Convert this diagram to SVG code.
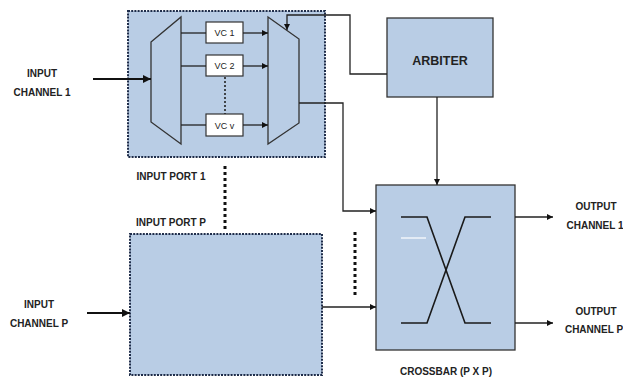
<svg xmlns="http://www.w3.org/2000/svg" width="623" height="379" viewBox="0 0 623 379">
<defs>
<marker id="ah" viewBox="0 0 10 10" refX="10" refY="5" markerWidth="6" markerHeight="6" markerUnits="userSpaceOnUse" orient="auto">
<path d="M0,0 L10,5 L0,10 Z" fill="#111"/>
</marker>
<marker id="ahb" viewBox="0 0 10 10" refX="10" refY="5" markerWidth="8" markerHeight="8" markerUnits="userSpaceOnUse" orient="auto">
<path d="M0,0 L10,5 L0,10 Z" fill="#111"/>
</marker>
<style>
.port{fill:#b9cde5;stroke:#1f2d4a;stroke-width:2;stroke-dasharray:2 1.2}
.blk{fill:#b9cde5;stroke:#333;stroke-width:1.3}
.vc{fill:#fff;stroke:#333;stroke-width:1.2}
.ln{fill:none;stroke:#222;stroke-width:1.3}
.thick{fill:none;stroke:#111;stroke-width:2.2}
.dots{fill:none;stroke:#111;stroke-width:3;stroke-dasharray:3 3}
.dotsm{fill:none;stroke:#222;stroke-width:1.6;stroke-dasharray:2 2}
.lbl{font-family:"Liberation Sans",Arial,sans-serif;font-weight:bold;font-size:10px;fill:#222;text-anchor:middle}
.vct{font-family:"Liberation Sans",Arial,sans-serif;font-size:9px;fill:#222;text-anchor:middle}
</style>
</defs>
<rect width="623" height="379" fill="#fff"/>

<g id="input-port-1">
<rect class="port" x="128" y="11" width="197" height="146"/>
<polygon class="blk" points="151,42 181,17 181,144 151,122"/>
<polygon class="blk" points="268,17 299,39 299,123 268,144"/>
<text class="lbl" x="171" y="180">INPUT PORT 1</text>
</g>
<g id="vc1"><rect class="vc" x="206" y="22" width="37" height="21"/><text class="vct" x="224.5" y="36">VC 1</text></g>
<g id="vc2"><rect class="vc" x="206" y="55" width="37" height="21"/><text class="vct" x="224.5" y="69">VC 2</text></g>
<g id="vcv"><rect class="vc" x="206" y="114" width="37" height="22"/><text class="vct" x="224.5" y="128.5">VC v</text></g>

<g id="input-port-p">
<rect class="port" x="130" y="234" width="192" height="141"/>
<text class="lbl" x="171" y="226">INPUT PORT P</text>
</g>

<g id="arbiter">
<rect class="blk" x="387" y="18" width="106" height="79"/>
<text class="lbl" x="440" y="65" style="font-size:12.5px">ARBITER</text>
</g>

<g id="crossbar">
<rect class="blk" x="376" y="185" width="139" height="165"/>
<polyline fill="none" stroke="#1a1a1a" stroke-width="1.6" points="401,217 427,217 465,323 491,323"/>
<polyline fill="none" stroke="#1a1a1a" stroke-width="1.6" points="401,323 427,323 465,217 491,217"/>
<line x1="401" y1="238" x2="426" y2="238" stroke="#fff" stroke-width="1.2"/>
<text class="lbl" x="446" y="375">CROSSBAR (P X P)</text>
</g>

<g id="labels">
<text class="lbl" x="42" y="77">INPUT</text>
<text class="lbl" x="42" y="96">CHANNEL  1</text>
<text class="lbl" x="39" y="308">INPUT</text>
<text class="lbl" x="39" y="327">CHANNEL P</text>
<text class="lbl" x="596" y="210">OUTPUT</text>
<text class="lbl" x="595" y="229">CHANNEL 1</text>
<text class="lbl" x="596" y="315">OUTPUT</text>
<text class="lbl" x="594" y="333">CHANNEL P</text>
</g>

<g id="connectors">
<line class="thick" x1="93" y1="79" x2="151" y2="79" marker-end="url(#ahb)"/>
<line class="thick" x1="87" y1="313" x2="130" y2="313" marker-end="url(#ahb)"/>
<line class="ln" x1="181" y1="33" x2="206" y2="33"/>
<line class="ln" x1="181" y1="66" x2="206" y2="66"/>
<line class="ln" x1="181" y1="125" x2="206" y2="125"/>
<line class="ln" x1="243" y1="33" x2="268" y2="33" marker-end="url(#ah)"/>
<line class="ln" x1="243" y1="66" x2="268" y2="66" marker-end="url(#ah)"/>
<line class="ln" x1="243" y1="125" x2="268" y2="125" marker-end="url(#ah)"/>
<line class="dotsm" x1="225" y1="77" x2="225" y2="114"/>
<polyline class="ln" points="387,74 350,74 350,15 287,15 287,30" marker-end="url(#ah)"/>
<polyline class="ln" points="299,103 343,103 343,211 376,211" marker-end="url(#ah)"/>
<line class="ln" x1="437" y1="97" x2="437" y2="185" marker-end="url(#ah)"/>
<line class="ln" x1="322" y1="307" x2="376" y2="307" marker-end="url(#ah)"/>
<line class="ln" x1="515" y1="217" x2="553" y2="217" marker-end="url(#ah)"/>
<line class="ln" x1="515" y1="323" x2="553" y2="323" marker-end="url(#ah)"/>
<line class="dots" x1="225" y1="166" x2="225" y2="229"/>
<line class="dots" x1="355" y1="232" x2="355" y2="297"/>
</g>
</svg>
